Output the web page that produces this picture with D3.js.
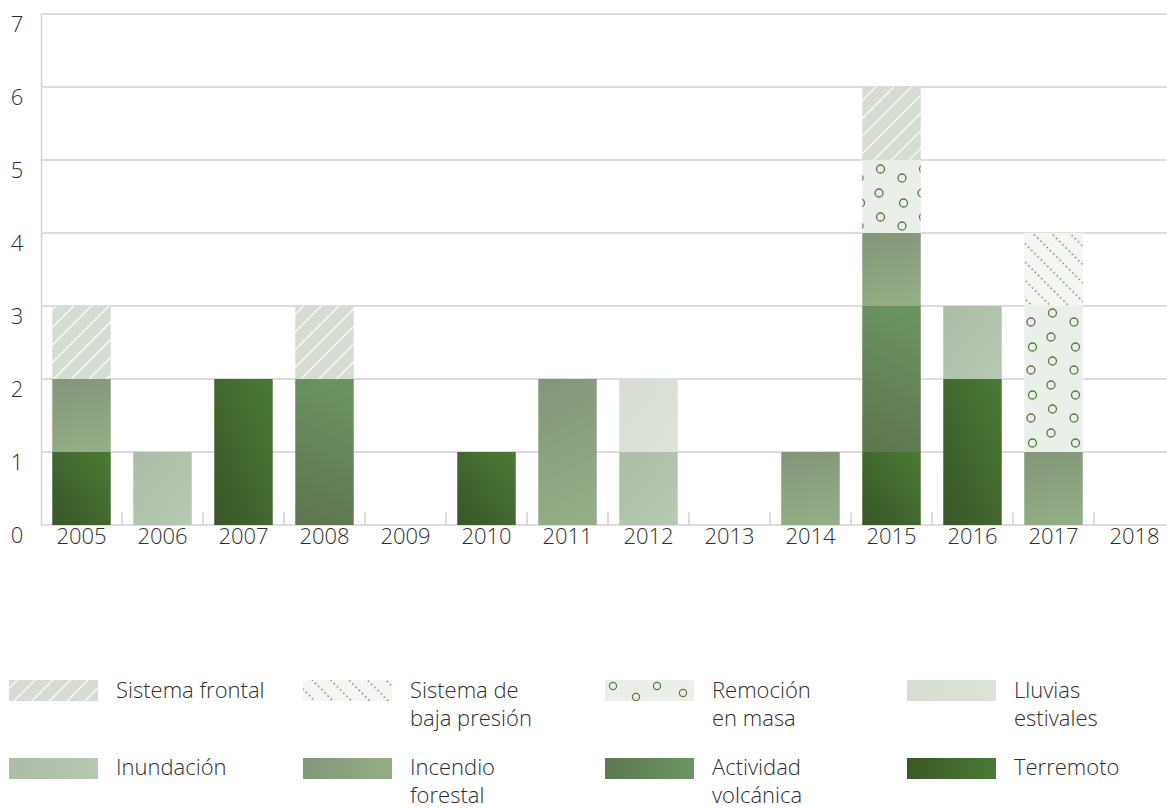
<!DOCTYPE html>
<html>
<head>
<meta charset="utf-8">
<script src="https://cdn.jsdelivr.net/npm/d3@7"></script>
<style>
  html, body { margin: 0; padding: 0; background: #ffffff; }
  svg text { font-family: "Open Sans", "Noto Sans", sans-serif; font-weight: 300; fill: #2e2e2e; }
</style>
</head>
<body>
<svg id="chart" width="1167" height="808"></svg>
<script>
// ---- Data ----
const years = ["2005","2006","2007","2008","2009","2010","2011","2012","2013","2014","2015","2016","2017","2018"];
const yTicks = [0, 1, 2, 3, 4, 5, 6, 7];

// series, stacked bottom -> top
const terremoto   = [1,0,2,0,0,1,0,0,0,0,1,2,0,0];
const volcanica   = [0,0,0,2,0,0,0,0,0,0,2,0,0,0];
const incendio    = [1,0,0,0,0,0,2,0,0,1,1,0,1,0];
const inundacion  = [0,1,0,0,0,0,0,1,0,0,0,1,0,0];
const lluvias     = [0,0,0,0,0,0,0,1,0,0,0,0,0,0];
const remocion    = [0,0,0,0,0,0,0,0,0,0,1,0,2,0];
const bajaPresion = [0,0,0,0,0,0,0,0,0,0,0,0,1,0];
const frontal     = [1,0,0,1,0,0,0,0,0,0,1,0,0,0];

const seriesKeys = ["terremoto","volcanica","incendio","inundacion","lluvias","remocion","bajaPresion","frontal"];
const seriesData = {terremoto, volcanica, incendio, inundacion, lluvias, remocion, bajaPresion, frontal};

const legendOrder = ["frontal","bajaPresion","remocion","lluvias","inundacion","incendio","volcanica","terremoto"];
const legendLabels = {
  frontal: ["Sistema frontal"],
  bajaPresion: ["Sistema de", "baja presión"],
  remocion: ["Remoción", "en masa"],
  lluvias: ["Lluvias", "estivales"],
  inundacion: ["Inundación"],
  incendio: ["Incendio", "forestal"],
  volcanica: ["Actividad", "volcánica"],
  terremoto: ["Terremoto"]
};

// ---- Setup ----
const svg = d3.select("#chart");
const W = 1167;
const mLeft = 41, mTop = 14, mBottom = 525;
const step = 81;
const FS = 22;

const x = d3.scaleBand().domain(years).range([mLeft, mLeft + step * years.length])
  .paddingInner(0.278).paddingOuter(0.139);
const y = d3.scaleLinear().domain([0, 7]).range([mBottom, mTop]);

const defs = svg.append("defs");

function grad(id, x1, y1, x2, y2, c1, c2) {
  const g = defs.append("linearGradient").attr("id", id)
    .attr("x1", x1).attr("y1", y1).attr("x2", x2).attr("y2", y2);
  g.append("stop").attr("offset", "0%").attr("stop-color", c1);
  g.append("stop").attr("offset", "100%").attr("stop-color", c2);
}
// bar gradients
grad("g-terremoto", 0, 1, 1, 0, "#385627", "#4b7a36");
grad("g-volcanica", 0.3, 1, 0.5, 0, "#5e7651", "#6b9262");
grad("g-incendio", 0.4, 0, 0.6, 1, "#85977a", "#93ae86");
grad("g-inundacion", 0, 0, 1, 1, "#adbca8", "#b7c9b1");
grad("g-lluvias", 0, 0, 1, 1, "#d6ded3", "#dce3d9");
// legend gradients (left -> right)
grad("l-terremoto", 0, 0, 1, 0, "#395827", "#4b7a36");
grad("l-volcanica", 0, 0, 1, 0, "#5e7852", "#6c9461");
grad("l-incendio", 0, 0, 1, 0, "#84977a", "#93ae86");
grad("l-inundacion", 0, 0, 1, 0, "#adbca8", "#b6c8b0");
grad("l-lluvias", 0, 0, 1, 0, "#d6ded3", "#dce3d9");

// pattern: sistema frontal (white "/" stripes)
const pf = defs.append("pattern").attr("id", "p-frontal")
  .attr("patternUnits", "userSpaceOnUse").attr("width", 12.5).attr("height", 12.5)
  .attr("patternTransform", "rotate(45)");
pf.append("rect").attr("width", 12.5).attr("height", 12.5).attr("fill", "#d5ddd3");
pf.append("line").attr("x1", 6).attr("x2", 6).attr("y1", 0).attr("y2", 12.5)
  .attr("stroke", "#ffffff").attr("stroke-width", 1.3);

// pattern: sistema de baja presión (dotted "\" lines)
const pb = defs.append("pattern").attr("id", "p-baja")
  .attr("patternUnits", "userSpaceOnUse").attr("width", 13).attr("height", 4.5)
  .attr("patternTransform", "rotate(-45)");
pb.append("rect").attr("width", 13).attr("height", 4.5).attr("fill", "#f3f6f2");
pb.append("rect").attr("x", 5.8).attr("y", 1.5).attr("width", 1.4).attr("height", 1.4).attr("fill", "#4a7a3a");

// pattern: remoción en masa (circles) for bars
const pr = defs.append("pattern").attr("id", "p-remocion")
  .attr("patternUnits", "userSpaceOnUse").attr("width", 43).attr("height", 48)
  .attr("x", 10).attr("y", 19);
pr.append("rect").attr("width", 43).attr("height", 48).attr("fill", "#ebefe9");
[[10.5, 6], [32, 15], [9, 30], [33.5, 40]].forEach(([cx, cy]) => {
  pr.append("circle").attr("cx", cx).attr("cy", cy).attr("r", 4)
    .attr("fill", "none").attr("stroke", "#557c43").attr("stroke-width", 1.3);
});
// legend version of the circle pattern
const prl = defs.append("pattern").attr("id", "p-remocion-l")
  .attr("patternUnits", "objectBoundingBox").attr("width", 1).attr("height", 1);
prl.append("rect").attr("width", 89).attr("height", 21).attr("fill", "#ebefe9");
[[8, 6], [52, 6], [31, 17], [78, 13]].forEach(([cx, cy]) => {
  prl.append("circle").attr("cx", cx).attr("cy", cy).attr("r", 3.6)
    .attr("fill", "none").attr("stroke", "#557c43").attr("stroke-width", 1.2);
});

const barFill = {
  terremoto: "url(#g-terremoto)", volcanica: "url(#g-volcanica)", incendio: "url(#g-incendio)",
  inundacion: "url(#g-inundacion)", lluvias: "url(#g-lluvias)", remocion: "url(#p-remocion)",
  bajaPresion: "url(#p-baja)", frontal: "url(#p-frontal)"
};
const legendFill = {
  terremoto: "url(#l-terremoto)", volcanica: "url(#l-volcanica)", incendio: "url(#l-incendio)",
  inundacion: "url(#l-inundacion)", lluvias: "url(#l-lluvias)", remocion: "url(#p-remocion-l)",
  bajaPresion: "url(#p-baja)", frontal: "url(#p-frontal)"
};

// ---- Grid ----
svg.append("g").selectAll("line").data(yTicks).join("line")
  .attr("x1", mLeft).attr("x2", W)
  .attr("y1", d => y(d)).attr("y2", d => y(d))
  .attr("stroke", "#d2d2d2").attr("stroke-width", 1.5);

svg.append("line").attr("x1", mLeft + 0.5).attr("x2", mLeft + 0.5)
  .attr("y1", mTop).attr("y2", mBottom)
  .attr("stroke", "#d2d2d2").attr("stroke-width", 1.5);

const boundaries = years.map(d => x(d) - x.step() * x.paddingInner() / 2).slice(1);
svg.append("g").selectAll("line").data(boundaries).join("line")
  .attr("x1", d => d).attr("x2", d => d)
  .attr("y1", mBottom - 13).attr("y2", mBottom)
  .attr("stroke", "#d2d2d2").attr("stroke-width", 1.5);

// ---- Bars ----
const table = years.map((yr, i) => {
  const o = {year: yr};
  seriesKeys.forEach(k => o[k] = seriesData[k][i]);
  return o;
});
const stacked = d3.stack().keys(seriesKeys)(table);

svg.append("g").selectAll("g").data(stacked).join("g")
  .attr("fill", s => barFill[s.key])
  .selectAll("rect").data(s => s.filter(d => d[1] - d[0] > 0)).join("rect")
  .attr("x", d => x(d.data.year))
  .attr("width", x.bandwidth())
  .attr("y", d => y(d[1]))
  .attr("height", d => y(d[0]) - y(d[1]));

// ---- Axis labels ----
svg.append("g").selectAll("text").data(yTicks).join("text")
  .attr("x", 17).attr("y", d => y(d) + 18)
  .attr("text-anchor", "middle").attr("font-size", FS)
  .text(d => d);

svg.append("g").selectAll("text").data(years).join("text")
  .attr("x", d => x(d) + x.bandwidth() / 2).attr("y", 544)
  .attr("text-anchor", "middle").attr("font-size", FS)
  .text(d => d);

// ---- Legend ----
const colX = [9, 303, 605, 907];
const rowY = [680, 757];
const lg = svg.append("g").selectAll("g").data(legendOrder).join("g")
  .attr("transform", (d, i) => `translate(${colX[i % 4]},${rowY[Math.floor(i / 4)]})`);
lg.append("rect").attr("y", (d, i) => i < 4 ? 0 : 1).attr("width", 89).attr("height", 21)
  .attr("fill", d => legendFill[d]);
lg.each(function(d) {
  const g = d3.select(this);
  legendLabels[d].forEach((line, j) => {
    g.append("text").attr("x", 107).attr("y", 18 + j * 27.5)
      .attr("font-size", FS).text(line);
  });
});
</script>
</body>
</html>
